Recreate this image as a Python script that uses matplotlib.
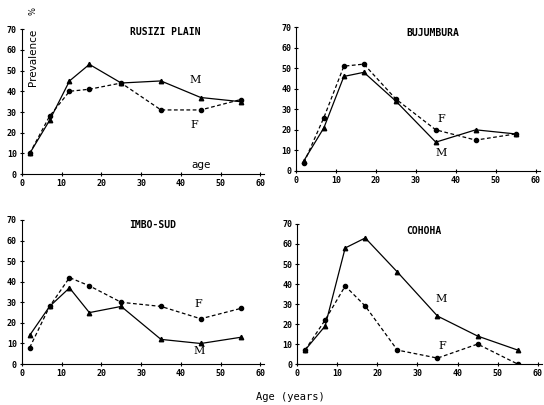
import matplotlib.pyplot as plt

# age classes (mid points) and prevalence (%)
ages = [2, 7, 12, 17, 25, 35, 45, 55]

rusizi_m = [10, 26, 45, 53, 44, 45, 37, 35]
rusizi_f = [10, 28, 40, 41, 44, 31, 31, 36]
bujumbura_m = [5, 21, 46, 48, 34, 14, 20, 18]
bujumbura_f = [4, 26, 51, 52, 35, 20, 15, 18]
imbo_m = [14, 28, 37, 25, 28, 12, 10, 13]
imbo_f = [8, 28, 42, 38, 30, 28, 22, 27]
cohoha_m = [7, 19, 58, 63, 46, 24, 14, 7]
cohoha_f = [7, 22, 39, 29, 7, 3, 10, 0]

titles = ["RUSIZI PLAIN", "BUJUMBURA", "IMBO-SUD", "COHOHA"]

mono = "DejaVu Sans Mono"
serif = "DejaVu Serif"

fig = plt.figure(figsize=(5.44, 4.05), dpi=100)

# panel positions [left, bottom, width, height]
boxes = [
    [0.040, 0.570, 0.446, 0.358],
    [0.544, 0.578, 0.448, 0.355],
    [0.040, 0.101, 0.446, 0.356],
    [0.546, 0.101, 0.450, 0.346],
]
males = [rusizi_m, bujumbura_m, imbo_m, cohoha_m]
females = [rusizi_f, bujumbura_f, imbo_f, cohoha_f]
# (x, y) for title, M label, F label
title_pos = [(36, 68.5), (34.3, 67), (32.8, 67.6), (31.5, 66.5)]
m_pos = [(43.5, 45.4), (36.3, 8.7), (44.5, 6.5), (36, 32.5)]
f_pos = [(43.5, 23.7), (36.3, 25.3), (44.5, 29), (36.2, 9)]

for i in range(4):
    ax = fig.add_axes(boxes[i])
    ax.plot(ages, males[i], color="black", lw=0.9, marker="^", ms=3.2)
    ax.plot(ages, females[i], color="black", lw=0.9, ls=(0, (3, 2)),
            marker="o", ms=3)
    ax.set_xlim(0, 61)
    ax.set_ylim(0, 70)
    ax.set_xticks(range(0, 61, 10))
    ax.set_yticks(range(0, 71, 10))
    ax.spines["top"].set_visible(False)
    ax.spines["right"].set_visible(False)
    ax.tick_params(direction="inout", length=3, width=0.8, pad=2,
                   labelsize=6)
    for lab in ax.get_xticklabels() + ax.get_yticklabels():
        lab.set_fontfamily(mono)
        lab.set_fontweight("bold")
    ax.text(title_pos[i][0], title_pos[i][1], titles[i], ha="center",
            va="center", family=mono, weight="bold", fontsize=7)
    ax.text(m_pos[i][0], m_pos[i][1], "M", ha="center", va="center",
            family=serif, fontsize=8)
    ax.text(f_pos[i][0], f_pos[i][1], "F", ha="center", va="center",
            family=serif, fontsize=8)
    if i == 0:
        ax.text(2.8, 56.5, "Prevalence", rotation=90, ha="center",
                va="center", fontsize=7.5)
        ax.text(2.8, 79, "%", rotation=90, ha="center", va="center",
                fontsize=6, clip_on=False)
        ax.text(45, 4.3, "age", ha="center", va="center", fontsize=7.5)

fig.text(0.533, 0.02, "Age (years)", ha="center", va="center",
         family=mono, fontsize=7.5)

fig.savefig("out.png", dpi=100)
